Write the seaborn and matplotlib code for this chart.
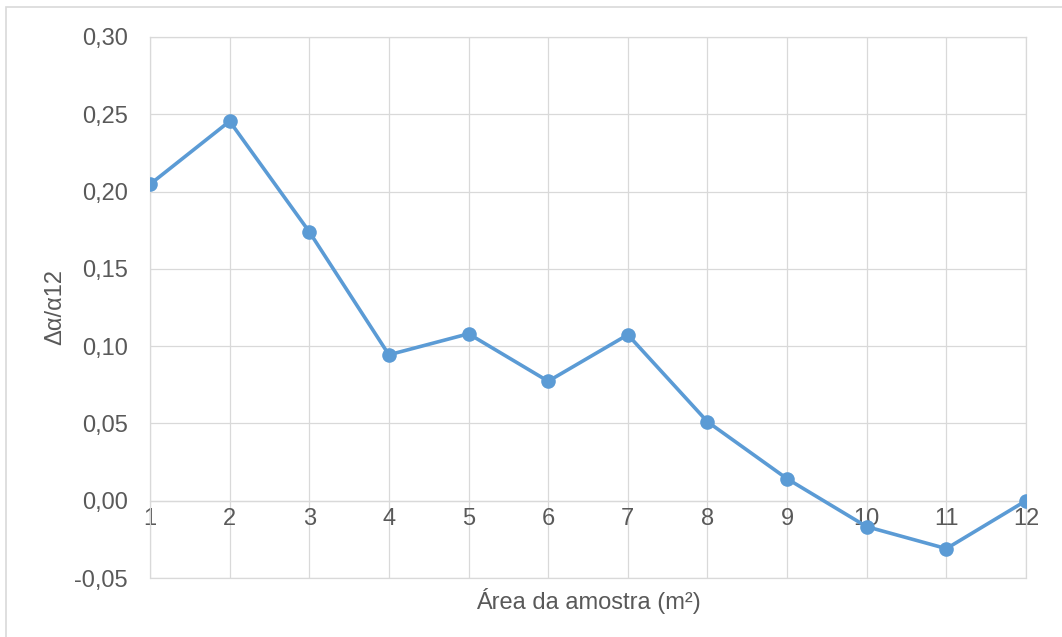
import seaborn as sns
import matplotlib.pyplot as plt
from matplotlib.patches import Rectangle

# data
area = [1, 2, 3, 4, 5, 6, 7, 8, 9, 10, 11, 12]
delta = [0.2047, 0.2455, 0.174, 0.0944, 0.108, 0.0773, 0.1074, 0.0511, 0.0142, -0.0168, -0.031, 0.0]
y_ticks = [-0.05, 0.0, 0.05, 0.10, 0.15, 0.20, 0.25, 0.30]
y_tick_labels = ["-0,05", "0,00", "0,05", "0,10", "0,15", "0,20", "0,25", "0,30"]

sns.set_style("white")
plt.rcParams['font.family'] = ['Liberation Sans', 'DejaVu Sans']

grid_col = "#D9D9D9"
text_col = "#595959"

fig = plt.figure(figsize=(10.62, 6.37), dpi=100)
ax = fig.add_axes([150 / 1062, 59 / 637, 876 / 1062, 541 / 637])

sns.lineplot(x=area, y=delta, ax=ax, color="#5B9BD5", linewidth=2.6,
             marker="o", markersize=10.5, markeredgewidth=0, zorder=3)

ax.set_xlim(1, 12)
ax.set_ylim(-0.05, 0.30)
ax.set_xticks(area)
ax.set_yticks(y_ticks)
ax.set_yticklabels(y_tick_labels)

ax.grid(True, color=grid_col, linewidth=0.9)
ax.set_axisbelow(True)
for side in ["top", "left", "right", "bottom"]:
    ax.spines[side].set_color(grid_col)
    ax.spines[side].set_linewidth(0.9)
ax.spines["bottom"].set_position(("data", 0))
ax.axhline(-0.05, color=grid_col, linewidth=0.9, clip_on=False, zorder=1)

ax.tick_params(axis="both", length=0, labelsize=17, colors=text_col)
ax.tick_params(axis="x", pad=5)
ax.tick_params(axis="y", pad=16)

ax.set_xlabel("")
ax.set_ylabel("")
fig.text(588 / 1062, 1 - 601 / 637, "Área da amostra (m²)", ha="center", va="center",
         fontsize=17, color=text_col)
fig.text(55 / 1062, 1 - 307 / 637, "Δα/α12", ha="center", va="center", rotation=90,
         fontsize=17, color=text_col)

# outer chart border
fig.patches.append(Rectangle((6 / 1062, -0.05), 1.1, 1 - 7 / 637 + 0.05, transform=fig.transFigure,
                             fill=False, edgecolor=grid_col, linewidth=1.2))

fig.savefig("out.png", dpi=100)
